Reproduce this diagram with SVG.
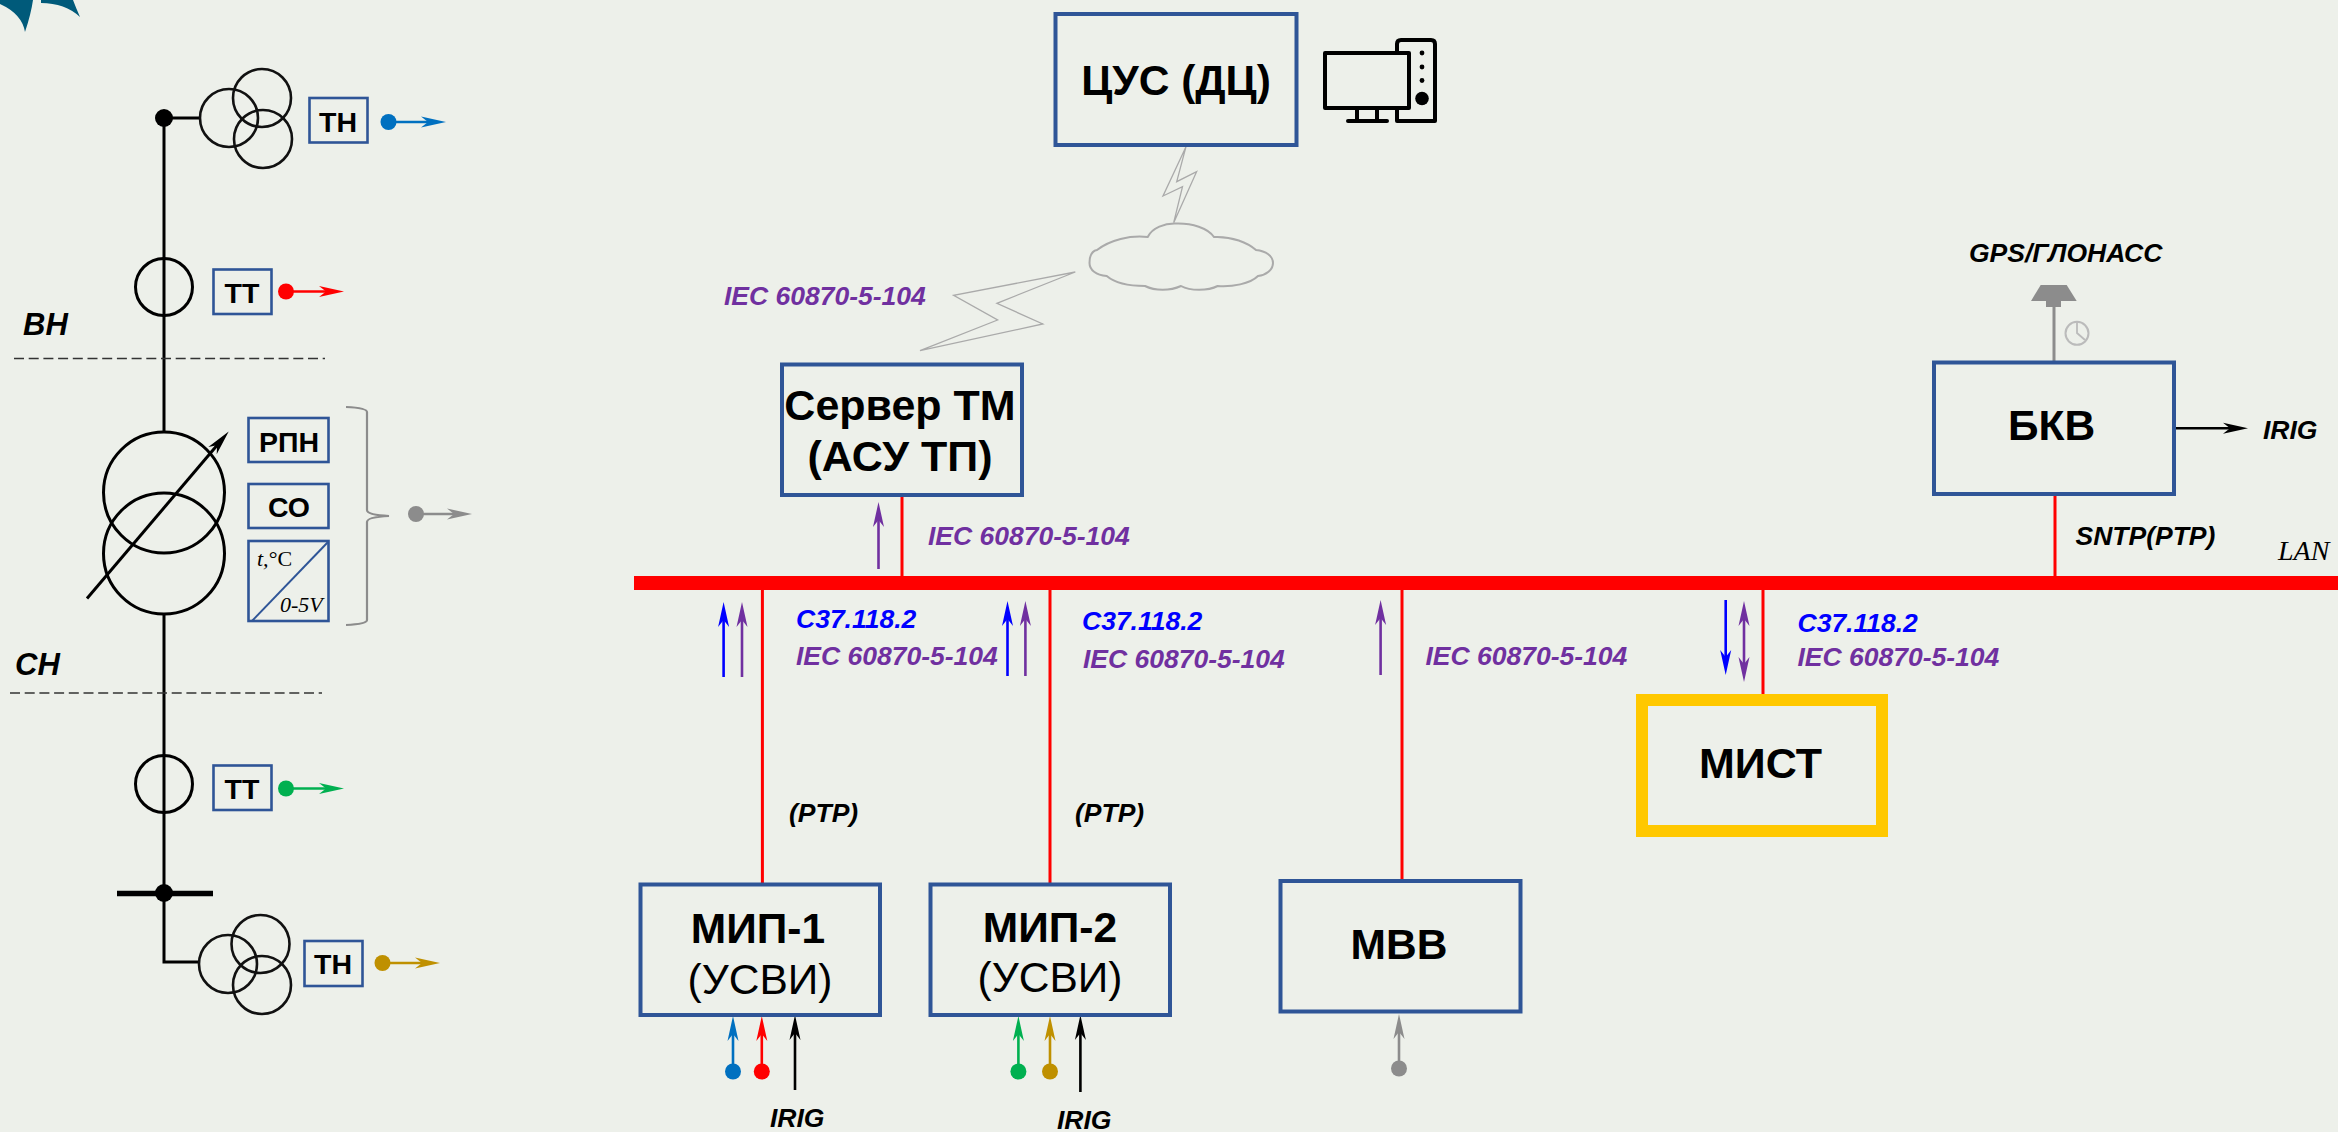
<svg xmlns="http://www.w3.org/2000/svg" width="2338" height="1132" viewBox="0 0 2338 1132">
<style>
text{font-family:"Liberation Sans",Arial,sans-serif}
.b{fill:none;stroke:#2f5597;stroke-width:4}
.bs{fill:none;stroke:#2f5597;stroke-width:2.6}
.t{font-weight:700;font-size:42.5px;text-anchor:middle;fill:#000}
.ts{font-weight:700;font-size:28.5px;text-anchor:middle;fill:#000}
.r{font-size:42.5px;text-anchor:middle;fill:#000}
.l{font-weight:700;font-style:italic;font-size:26.5px;fill:#000}
.p{font-weight:700;font-style:italic;font-size:26.5px;fill:#7030a0}
.u{font-weight:700;font-style:italic;font-size:26.5px;fill:#0000ff}
.z{font-weight:700;font-style:italic;font-size:31px;fill:#000}
.s{font-family:"Liberation Serif",serif;font-size:22px;fill:#000}
.k{fill:none;stroke:#000;stroke-width:3}
.th{fill:none;stroke:#111;stroke-width:2.6}
.d{fill:none;stroke:#333;stroke-width:1.6;stroke-dasharray:10 4.7}
.g{fill:none;stroke:#aaa;stroke-width:1.3}
.lan{fill:none;stroke:#ff0000;stroke-width:3}
.a{fill:none;stroke-width:2.6}
</style>
<defs>
<marker id="mB" markerUnits="userSpaceOnUse" viewBox="0 -6 26 12" markerWidth="26" markerHeight="12" refX="10" refY="0" orient="auto-start-reverse"><path d="M0,-5.5L25,0L0,5.5L7,0Z" fill="#0070c0"/></marker>
<marker id="mR" markerUnits="userSpaceOnUse" viewBox="0 -6 26 12" markerWidth="26" markerHeight="12" refX="10" refY="0" orient="auto-start-reverse"><path d="M0,-5.5L25,0L0,5.5L7,0Z" fill="#ff0000"/></marker>
<marker id="mG" markerUnits="userSpaceOnUse" viewBox="0 -6 26 12" markerWidth="26" markerHeight="12" refX="10" refY="0" orient="auto-start-reverse"><path d="M0,-5.5L25,0L0,5.5L7,0Z" fill="#00b050"/></marker>
<marker id="mY" markerUnits="userSpaceOnUse" viewBox="0 -6 26 12" markerWidth="26" markerHeight="12" refX="10" refY="0" orient="auto-start-reverse"><path d="M0,-5.5L25,0L0,5.5L7,0Z" fill="#bf9000"/></marker>
<marker id="mS" markerUnits="userSpaceOnUse" viewBox="0 -6 26 12" markerWidth="26" markerHeight="12" refX="10" refY="0" orient="auto-start-reverse"><path d="M0,-5.5L25,0L0,5.5L7,0Z" fill="#8c8c8c"/></marker>
<marker id="mK" markerUnits="userSpaceOnUse" viewBox="0 -6 26 12" markerWidth="26" markerHeight="12" refX="10" refY="0" orient="auto-start-reverse"><path d="M0,-5.5L25,0L0,5.5L7,0Z" fill="#000"/></marker>
<marker id="mU" markerUnits="userSpaceOnUse" viewBox="0 -6 26 12" markerWidth="26" markerHeight="12" refX="10" refY="0" orient="auto-start-reverse"><path d="M0,-5.5L25,0L0,5.5L7,0Z" fill="#0000ff"/></marker>
<marker id="mP" markerUnits="userSpaceOnUse" viewBox="0 -6 26 12" markerWidth="26" markerHeight="12" refX="10" refY="0" orient="auto-start-reverse"><path d="M0,-5.5L25,0L0,5.5L7,0Z" fill="#7030a0"/></marker>
</defs>
<rect width="2338" height="1132" fill="#edf0ea"/>
<path d="M0,0L33,0Q31,14 25,32Q22,14 0,4Z M41,0L73,0Q76,8 80,17Q65,3 41,3Z" fill="#005a7a"/>

<g id="connectors">
<rect id="lan-bus" x="634" y="576" width="1704" height="14" fill="#ff0000"/>
<path class="lan" d="M902,497V576M762.4,590V885M1050,590V885M1402,590V882M1763,590V699M2055,496V576"/>
<path class="k" d="M164,118V432M164,615V962H199M164,118H200M164,258V316"/>
<path class="d" d="M14,358.5H325M10,693H322"/>
<path d="M117,893.5H213" stroke="#000" stroke-width="5.5" fill="none"/>
<path d="M87,598.5L219,443" class="k" marker-end="url(#mK)"/>
<g class="a">
<path d="M388,122H431" stroke="#0070c0" marker-end="url(#mB)"/>
<path d="M286,291.5H329" stroke="#ff0000" marker-end="url(#mR)"/>
<path d="M286,788.5H329" stroke="#00b050" marker-end="url(#mG)"/>
<path d="M382,963H425" stroke="#bf9000" marker-end="url(#mY)"/>
<path d="M416,514H457" stroke="#8c8c8c" marker-end="url(#mS)"/>
<path d="M733,1072V1031" stroke="#0070c0" marker-end="url(#mB)"/>
<path d="M761.8,1072V1031" stroke="#ff0000" marker-end="url(#mR)"/>
<path d="M795,1090V1030" stroke="#000" marker-end="url(#mK)"/>
<path d="M1018.4,1072V1031" stroke="#00b050" marker-end="url(#mG)"/>
<path d="M1050,1072V1031" stroke="#bf9000" marker-end="url(#mY)"/>
<path d="M1080.4,1092V1030" stroke="#000" marker-end="url(#mK)"/>
<path d="M1399,1069V1029" stroke="#8c8c8c" marker-end="url(#mS)"/>
<path d="M2173,428.3H2233" stroke="#000" marker-end="url(#mK)"/>
<path d="M878.5,569V517" stroke="#7030a0" marker-end="url(#mP)"/>
<path d="M723.6,677V617" stroke="#0000ff" marker-end="url(#mU)"/>
<path d="M742,677V617" stroke="#7030a0" marker-end="url(#mP)"/>
<path d="M1007.5,676V616" stroke="#0000ff" marker-end="url(#mU)"/>
<path d="M1025.4,676V616" stroke="#7030a0" marker-end="url(#mP)"/>
<path d="M1380.6,675V615" stroke="#7030a0" marker-end="url(#mP)"/>
<path d="M1725.7,600V660" stroke="#0000ff" marker-end="url(#mU)"/>
<path d="M1744,616V667" stroke="#7030a0" marker-start="url(#mP)" marker-end="url(#mP)"/>
</g>
<g fill="#0070c0"><circle cx="388.5" cy="122" r="8"/><circle cx="733" cy="1071.500" r="8"/></g>
<g fill="#ff0000"><circle cx="286" cy="291.5" r="8"/><circle cx="761.8" cy="1071.500" r="8"/></g>
<g fill="#00b050"><circle cx="286" cy="788.5" r="8"/><circle cx="1018.4" cy="1071.500" r="8"/></g>
<g fill="#bf9000"><circle cx="382.5" cy="963" r="8"/><circle cx="1050" cy="1071.500" r="8"/></g>
<g fill="#8c8c8c"><circle cx="416" cy="514" r="8"/><circle cx="1399" cy="1068.500" r="8"/></g>
<circle cx="164" cy="118" r="9"/><circle cx="164" cy="893" r="9"/>
<path class="g" d="M1186,146.7L1163,196L1182.5,186.7L1173.7,222.7L1196.6,171.7L1176.7,181.7Z"/>
<path class="g" stroke-width="1.8" d="M1075.3,272L953.6,295.3L997.6,320L920,350.7L1042.8,324L996.9,303.3Z"/>
<path d="M2054,307V363" stroke="#8c8c8c" stroke-width="3" fill="none"/>
</g>

<g id="vt-top"><circle class="th" cx="229" cy="118" r="29"/><circle class="th" cx="262" cy="98" r="29"/><circle class="th" cx="263" cy="139" r="29"/></g>
<g id="th-top"><rect class="bs" x="309.5" y="98" width="58" height="44.5"/><text class="ts" x="338" y="132">ТН</text></g>
<g id="ct-top"><circle class="k" cx="164" cy="287" r="28.5"/></g>
<g id="tt-top"><rect class="bs" x="213.5" y="269.5" width="58" height="44.5"/><text class="ts" x="242" y="303">ТТ</text></g>
<g id="power-transformer"><circle class="k" cx="164" cy="492.500" r="60.500"/><circle class="k" cx="164" cy="553.500" r="60.500"/></g>
<g id="rpn"><rect class="bs" x="248.5" y="418" width="80" height="44"/><text class="ts" x="289" y="452">РПН</text></g>
<g id="so"><rect class="bs" x="248.5" y="484" width="80" height="44"/><text class="ts" x="289" y="517">СО</text></g>
<g id="temp"><rect class="bs" x="248.5" y="541" width="80" height="80"/><path d="M252,621L328,542" stroke="#2f5597" stroke-width="2" fill="none"/>
<text class="s" x="257" y="566"><tspan font-style="italic">t,</tspan>°C</text><text class="s" x="280" y="612" font-style="italic">0-5V</text></g>
<g id="bracket"><path d="M346,407Q367,408 367,412V510Q367,515 389,516Q367,517 367,522V620Q367,624 346,625" fill="none" stroke="#8c8c8c" stroke-width="2.2"/></g>
<g id="label-vn"><text class="z" x="23" y="335">ВН</text></g>
<g id="label-sn"><text class="z" x="15" y="675">СН</text></g>
<g id="ct-bottom"><circle class="k" cx="164" cy="784" r="28.5"/></g>
<g id="tt-bottom"><rect class="bs" x="213.5" y="765.5" width="58" height="44.5"/><text class="ts" x="242" y="799">ТТ</text></g>
<g id="vt-bottom"><circle class="th" cx="228" cy="964" r="29"/><circle class="th" cx="260.5" cy="944" r="29"/><circle class="th" cx="262" cy="985" r="29"/></g>
<g id="th-bottom"><rect class="bs" x="304.5" y="941" width="58" height="45"/><text class="ts" x="333" y="974">ТН</text></g>

<g id="cus"><rect class="b" x="1055.5" y="14" width="241" height="131"/><text class="t" x="1176" y="95">ЦУС (ДЦ)</text></g>
<g id="computer" fill="none" stroke="#000" stroke-width="4" stroke-linejoin="round" stroke-linecap="round">
<rect x="1325" y="53" width="84" height="55"/>
<path d="M1357,108V121M1377,108V121M1348,121H1387M1397,53V44Q1397,40 1401,40H1431Q1435,40 1435,44V121H1397V110"/>
<g fill="#000" stroke="none"><circle cx="1422" cy="53" r="2.4"/><circle cx="1422" cy="67" r="2.4"/><circle cx="1422" cy="80.500" r="2.400"/><circle cx="1422" cy="98.500" r="6.800"/></g>
</g>
<g id="cloud"><path d="M1097,250C1110,240 1130,235 1147.700,237C1152,228 1165,223 1176,223.500C1192,223 1208,228 1214,237C1232,236 1248,243 1256,250C1266,251 1273,256 1273,263C1273,270 1266,275 1258,276C1250,284 1232,287 1217.700,286C1208,291 1190,291 1181,286C1170,291 1155,291 1145,286C1130,286 1115,283 1106.700,276C1096,275 1089.500,270 1089.500,263C1089.500,256 1092,251 1097,250Z" fill="none" stroke="#aaa" stroke-width="2"/></g>
<g id="server"><rect class="b" x="782" y="364.500" width="240" height="130.500"/><text class="t" x="900" y="420" style="font-size:43px">Сервер ТМ</text><text class="t" x="900" y="471" style="font-size:43px">(АСУ ТП)</text></g>
<g id="bkv"><rect class="b" x="1934" y="362.500" width="240" height="131.500"/><text class="t" x="2051.500" y="440">БКВ</text></g>
<g id="antenna"><path d="M2031,301L2040.700,285H2066.700L2076.700,301Z" fill="#8c8c8c"/><rect x="2046" y="301" width="15" height="6" fill="#8c8c8c"/>
<circle cx="2077" cy="333.300" r="11.500" fill="none" stroke="#bbb" stroke-width="2"/><path d="M2077,322V333L2085,340" fill="none" stroke="#bbb" stroke-width="1.800"/></g>
<g id="mip1"><rect class="b" x="640.500" y="884.500" width="239.500" height="130.500"/><text class="t" x="758" y="943">МИП-1</text><text class="r" x="760" y="994">(УСВИ)</text></g>
<g id="mip2"><rect class="b" x="930.500" y="884.500" width="239.500" height="130.500"/><text class="t" x="1050" y="941.500">МИП-2</text><text class="r" x="1050" y="992">(УСВИ)</text></g>
<g id="mvv"><rect class="b" x="1280.500" y="881" width="240" height="130.500"/><text class="t" x="1399" y="959">МВВ</text></g>
<g id="mist"><rect x="1642" y="700" width="240" height="131" fill="none" stroke="#ffc800" stroke-width="12"/><text class="t" x="1760.500" y="778" style="font-size:43px">МИСТ</text></g>

<g id="labels">
<text class="p" x="724" y="305">IEC 60870-5-104</text>
<text class="p" x="928" y="545">IEC 60870-5-104</text>
<text class="u" x="796" y="628">C37.118.2</text><text class="p" x="796" y="665">IEC 60870-5-104</text>
<text class="u" x="1082" y="630">C37.118.2</text><text class="p" x="1083" y="667.500">IEC 60870-5-104</text>
<text class="p" x="1425.500" y="665">IEC 60870-5-104</text>
<text class="u" x="1797.500" y="631.500">C37.118.2</text><text class="p" x="1797.500" y="665.500">IEC 60870-5-104</text>
<text class="l" x="789" y="822">(PTP)</text><text class="l" x="1075" y="822">(PTP)</text>
<text class="l" x="770" y="1126.500">IRIG</text><text class="l" x="1057" y="1129">IRIG</text>
<text class="l" x="2263" y="439">IRIG</text>
<text class="l" x="1969" y="262">GPS/ГЛОНАСС</text>
<text class="l" x="2075.500" y="545">SNTP(PTP)</text>
<text x="2278" y="559.500" style="font-family:'Liberation Serif',serif;font-style:italic;font-size:28px" fill="#000">LAN</text>
</g>
</svg>
